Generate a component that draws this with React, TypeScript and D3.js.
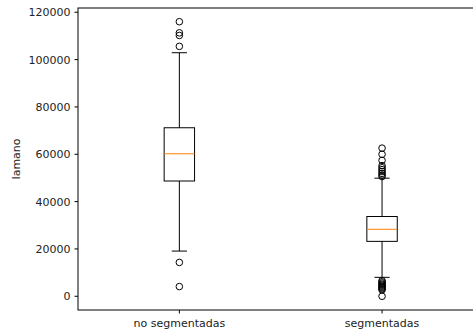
import React, { useRef, useEffect } from 'react';
import * as d3 from 'd3';

const categories = ['no segmentadas', 'segmentadas'];
const whiskerLow = [19100, 8000];
const q1 = [48700, 23200];
const medians = [60200, 28300];
const q3 = [71200, 33700];
const whiskerHigh = [102900, 49900];
const outliersNoSeg = [116000, 111300, 110200, 105600, 14300, 4100];
const outliersSeg = [62600, 60000, 57400, 55200, 54300, 53500, 52700, 51900, 51200, 50600,
  6600, 6100, 5600, 5100, 4700, 4300, 3900, 3500, 3100, 2700, 0];
const yTicks = [0, 20000, 40000, 60000, 80000, 100000, 120000];

const W = 473;
const H = 331;

const App = () => {
  const svgRef = useRef<SVGSVGElement>(null);

  useEffect(() => {
    const svg = d3.select(svgRef.current);
    svg.selectAll('*').remove();

    const left = 78;
    const top = 8;
    const bottom = 310;
    const right = 483.4;

    const outliers = [outliersNoSeg, outliersSeg];
    const allVals = [...whiskerLow, ...whiskerHigh, ...outliersNoSeg, ...outliersSeg];
    const lo = d3.min(allVals) as number;
    const hi = d3.max(allVals) as number;
    const pad = (hi - lo) * 0.05;

    const y = d3.scaleLinear().domain([lo - pad, hi + pad]).range([bottom, top]);
    const x = d3.scaleLinear().domain([0.5, 2.5]).range([left, right]);
    const boxW = x(1.15) - x(1);
    const capW = boxW / 2;

    const font = '"DejaVu Sans", sans-serif';

    // axes frame
    svg.append('rect')
      .attr('x', left).attr('y', top)
      .attr('width', right - left).attr('height', bottom - top)
      .attr('fill', 'none').attr('stroke', '#000').attr('stroke-width', 1);

    // y ticks
    const yg = svg.append('g');
    yTicks.forEach(t => {
      yg.append('line')
        .attr('x1', left - 3.5).attr('x2', left)
        .attr('y1', y(t)).attr('y2', y(t))
        .attr('stroke', '#000').attr('stroke-width', 1);
      yg.append('text')
        .attr('x', left - 7.5).attr('y', y(t))
        .attr('dy', '0.36em')
        .attr('text-anchor', 'end')
        .style('font-family', font).style('font-size', '11px')
        .attr('fill', '#222')
        .text(t);
    });

    // x ticks
    categories.forEach((c, i) => {
      const cx = x(i + 1);
      svg.append('line')
        .attr('x1', cx).attr('x2', cx)
        .attr('y1', bottom).attr('y2', bottom + 3.5)
        .attr('stroke', '#000').attr('stroke-width', 1);
      svg.append('text')
        .attr('x', cx).attr('y', bottom + 16.5)
        .attr('text-anchor', 'middle')
        .style('font-family', font).style('font-size', '11px')
        .attr('fill', '#222')
        .text(c);
    });

    // y label
    svg.append('text')
      .attr('transform', `translate(20, ${(top + bottom) / 2}) rotate(-90)`)
      .attr('text-anchor', 'middle')
      .style('font-family', font).style('font-size', '11px')
      .attr('fill', '#222')
      .text('Iamano');

    // boxes
    categories.forEach((c, i) => {
      const cx = x(i + 1);
      const g = svg.append('g');
      g.append('line')
        .attr('x1', cx).attr('x2', cx)
        .attr('y1', y(whiskerLow[i])).attr('y2', y(q1[i]))
        .attr('stroke', '#000').attr('stroke-width', 1);
      g.append('line')
        .attr('x1', cx).attr('x2', cx)
        .attr('y1', y(q3[i])).attr('y2', y(whiskerHigh[i]))
        .attr('stroke', '#000').attr('stroke-width', 1);
      [whiskerLow[i], whiskerHigh[i]].forEach(v => {
        g.append('line')
          .attr('x1', cx - capW / 2).attr('x2', cx + capW / 2)
          .attr('y1', y(v)).attr('y2', y(v))
          .attr('stroke', '#000').attr('stroke-width', 1);
      });
      g.append('rect')
        .attr('x', cx - boxW / 2).attr('y', y(q3[i]))
        .attr('width', boxW).attr('height', y(q1[i]) - y(q3[i]))
        .attr('fill', 'none').attr('stroke', '#000').attr('stroke-width', 1);
      g.append('line')
        .attr('x1', cx - boxW / 2).attr('x2', cx + boxW / 2)
        .attr('y1', y(medians[i])).attr('y2', y(medians[i]))
        .attr('stroke', '#ff7f0e').attr('stroke-width', 1);
      g.selectAll('circle')
        .data(outliers[i])
        .join('circle')
        .attr('cx', cx)
        .attr('cy', d => y(d))
        .attr('r', 3.3)
        .attr('fill', 'none')
        .attr('stroke', '#000')
        .attr('stroke-width', 1);
    });
  }, []);

  return (
    <svg
      ref={svgRef}
      width={W}
      height={H}
      style={{ position: 'absolute', left: 0, top: 0, background: '#fff' }}
    />
  );
};

export default App;
